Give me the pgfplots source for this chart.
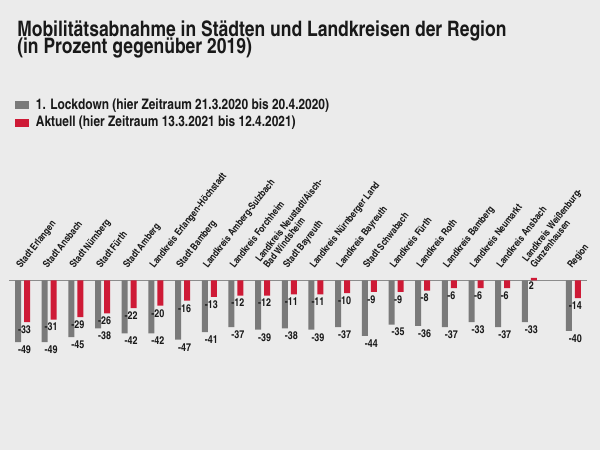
\documentclass[border=0pt]{standalone}
\usepackage{fontspec}
\usepackage{pgfplots}
\pgfplotsset{compat=1.18}
\usepackage{pgfplotstable}
\setmainfont{texgyreheroscn}[Extension=.otf, UprightFont=*-regular, BoldFont=*-bold, ItalicFont=*-italic, BoldItalicFont=*-bolditalic]
\definecolor{bg}{RGB}{235,235,235}
\definecolor{bargray}{RGB}{122,122,122}
\definecolor{barred}{RGB}{206,26,54}
\definecolor{txt}{RGB}{25,25,25}
\newcommand\twoline[2]{\hspace*{3.2pt}\raisebox{-4.2pt}{\def\arraystretch{0.85}\begin{tabular}[b]{@{}l@{}}#1\\#2\end{tabular}}}

\pgfplotstableread{
x g r
0 -49 -33
1 -49 -31
2 -45 -29
3 -38 -26
4 -42 -22
5 -42 -20
6 -47 -16
7 -41 -13
8 -37 -12
9 -39 -12
10 -38 -11
11 -39 -11
12 -37 -10
13 -44 -9
14 -35 -9
15 -36 -8
16 -37 -6
17 -33 -6
18 -37 -6
19 -33 2
20.65 -40 -14
}\data

\begin{document}
\begin{tikzpicture}[x=0.75pt,y=0.75pt]
\fill[bg] (0,0) rectangle (600,450);
\useasboundingbox (0,0) rectangle (600,450);
\coordinate (axpos) at (9,169.5);
\node[anchor=base west, inner sep=0pt, text=txt, font=\bfseries\fontsize{16}{18}\selectfont] at (17,413) {Mobilitätsabnahme in Städten und Landkreisen der Region};
\node[anchor=base west, inner sep=0pt, text=txt, font=\bfseries\fontsize{16}{18}\selectfont] at (17,396) {(in Prozent gegenüber 2019)};
\begin{axis}[
  at={(axpos)}, anchor=north west,
  scale only axis, width=433.5pt, height=56.7pt,
  xmin=-0.506, xmax=21.158, ymin=-60, ymax=0,
  clip=false,
  axis x line*=top, axis y line=none,
  axis line style={draw=black!45, line width=0.6pt},
  major tick length=0pt,
  xtick={0,1,2,3,4,5,6,7,8,9,10,11,12,13,14,15,16,17,18,19,20.65},
  xticklabels={Stadt Erlangen, Stadt Ansbach, Stadt Nürnberg, Stadt Fürth, Stadt Amberg, Landkreis Erlangen-Höchstadt, Stadt Bamberg, Landkreis Amberg-Sulzbach, Landkreis Forchheim, {\twoline{Landkreis Neustadt/Aisch-}{Bad Windsheim}}, Stadt Bayreuth, Landkreis Nürnberger Land, Landkreis Bayreuth, Stadt Schwabach, Landkreis Fürth, Landkreis Roth, Landkreis Bamberg, Landkreis Neumarkt, Landkreis Ansbach, {\twoline{Landkreis Weißenburg-}{Gunzenhausen}}, Region},
  xticklabel style={xshift=-1.2pt, yshift=8.6pt, rotate=52, anchor=base west, inner sep=0pt, text=txt, font=\bfseries\fontsize{7.4}{8.4}\selectfont},
  legend style={at={(axis description cs:0.0104,3.44)}, anchor=north west, draw=none, fill=none, inner sep=0pt, row sep=-0.6pt, font=\bfseries\fontsize{10.9}{12}\selectfont, text=txt, cells={anchor=west}},
  legend image code/.code={\fill[#1] (0pt,-3pt) rectangle (10.5pt,3pt); \path (13.5pt,0pt);},
  nodes near coords={\pgfmathprintnumber[assume math mode=true]{\pgfplotspointmeta}},
]
\addplot[ybar, bar width=4.5pt, bar shift=-3.375pt, fill=bargray, draw=none,
  every node near coord/.append style={anchor=north, inner sep=0pt, yshift=-2.5pt, xshift=1.5pt, text=txt, font=\bfseries\fontsize{8.2}{9}\selectfont}]
  table[x=x, y=g] {\data};
\addlegendentry{1. Lockdown (hier Zeitraum 21.3.2020 bis 20.4.2020)}
\addplot[ybar, bar width=4.5pt, bar shift=3.375pt, fill=barred, draw=none,
  every node near coord/.append style={anchor=north, inner sep=0pt, yshift=-2.5pt, xshift=1.5pt, text=txt, font=\bfseries\fontsize{8.2}{9}\selectfont}]
  table[x=x, y=r] {\data};
\addlegendentry{Aktuell (hier Zeitraum 13.3.2021 bis 12.4.2021)}
\end{axis}
\end{tikzpicture}
\end{document}
